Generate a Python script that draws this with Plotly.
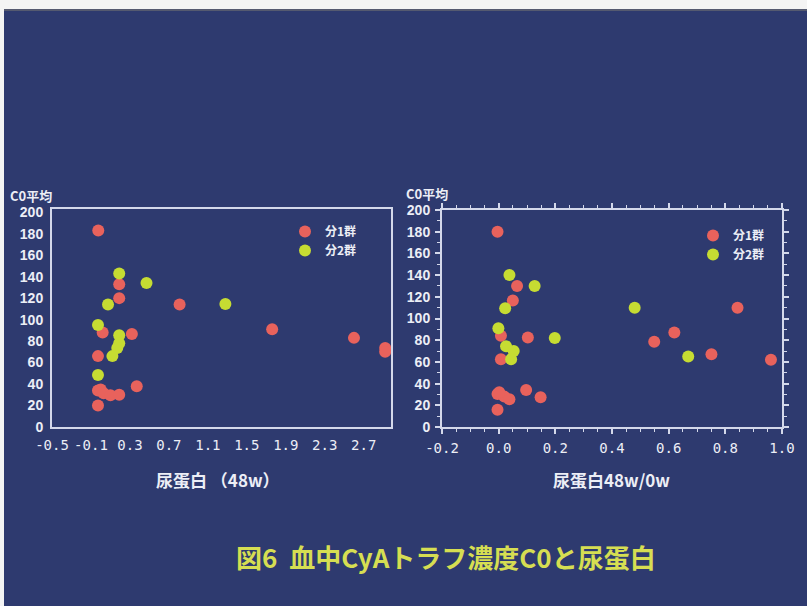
import plotly.graph_objects as go

# ---- data ----
left_g1_x = [-0.025, 0.19, 0.19, 0.81, 0.02, 0.32, 1.76, 2.60, 2.92, 2.92, -0.028, 0.37,
             -0.028, 0.0, 0.03, 0.10, 0.19, -0.028]
left_g1_y = [183, 133, 120, 114, 88, 86.5, 91, 83, 73.5, 70, 66, 38,
             34, 35, 31.5, 29.5, 30, 20]
left_g2_x = [0.19, 0.47, 0.075, 1.28, -0.028, 0.19, 0.19, 0.17, 0.12, -0.028]
left_g2_y = [143, 134, 114, 114.5, 95, 85.5, 78, 73.5, 66, 48.5]

right_g1_x = [-0.004, 0.065, 0.05, 0.843, 0.008, 0.103, 0.62, 0.549, 0.751, 0.961, 0.008,
              0.097, 0.148, -0.004, 0.02, 0.038, 0.002, -0.004]
right_g1_y = [180, 130, 116.5, 110, 84, 82.5, 87, 78.5, 67, 62, 62.5,
              34, 27.5, 30.5, 28, 25.5, 32, 16]
right_g2_x = [0.038, 0.127, 0.023, 0.48, -0.001, 0.198, 0.026, 0.053, 0.044, 0.669]
right_g2_y = [140, 130, 109.5, 110, 91, 82, 74.5, 70, 62.5, 65]

series_names = ["分1群", "分2群"]

left_xticks = [-0.5, -0.1, 0.3, 0.7, 1.1, 1.5, 1.9, 2.3, 2.7]
left_xtext = ["-0.5", "-0.1", "0.3", "0.7", "1.1", "1.5", "1.9", "2.3", "2.7"]
right_xticks = [-0.2, 0.0, 0.2, 0.4, 0.6, 0.8, 1.0]
right_xtext = ["-0.2", "0.0", "0.2", "0.4", "0.6", "0.8", "1.0"]
yticks = [0, 20, 40, 60, 80, 100, 120, 140, 160, 180, 200]

y_title = "C0平均"
left_xtitle = "尿蛋白 （48w）"
right_xtitle = "尿蛋白48w/0w"
main_title = "図6  血中CyAトラフ濃度C0と尿蛋白"

# ---- style ----
W, H = 807, 606
BG = "#2e3a6f"
RED = "#e8625c"
GREEN = "#c6dc32"
AXC = "#d4d8ea"
TXT = "#eceef6"
JP = "Noto Sans CJK JP"


def px(x):
    return x / W


def py(y):
    return 1 - y / H


fig = go.Figure()
mk = dict(size=12, line=dict(width=0))
fig.add_trace(go.Scatter(x=left_g1_x, y=left_g1_y, mode="markers", name=series_names[0],
                         marker=dict(color=RED, **mk), xaxis="x", yaxis="y", legend="legend"))
fig.add_trace(go.Scatter(x=left_g2_x, y=left_g2_y, mode="markers", name=series_names[1],
                         marker=dict(color=GREEN, **mk), xaxis="x", yaxis="y", legend="legend"))
fig.add_trace(go.Scatter(x=right_g1_x, y=right_g1_y, mode="markers", name=series_names[0],
                         marker=dict(color=RED, **mk), xaxis="x2", yaxis="y2", legend="legend2"))
fig.add_trace(go.Scatter(x=right_g2_x, y=right_g2_y, mode="markers", name=series_names[1],
                         marker=dict(color=GREEN, **mk), xaxis="x2", yaxis="y2", legend="legend2"))

xtick_font = dict(family="DejaVu Sans Mono", size=14, color=TXT)
ytick_font = dict(family="Liberation Sans", size=14, color=TXT, weight="bold")

fig.update_layout(
    width=W, height=H,
    margin=dict(l=0, r=0, t=0, b=0, pad=0, autoexpand=False),
    paper_bgcolor=BG, plot_bgcolor=BG,
    xaxis=dict(domain=[px(52), px(391)], range=[-0.5, 2.98], tickvals=left_xticks,
               ticktext=left_xtext, tickfont=xtick_font, showgrid=False, zeroline=False,
               showline=True, linecolor=AXC, linewidth=2, mirror=True, ticks="",
               anchor="y", ticklabelstandoff=4, automargin=False),
    yaxis=dict(domain=[py(427), py(209)], range=[0, 203], tickvals=yticks,
               tickfont=ytick_font, showgrid=False, zeroline=False, showline=True,
               linecolor=AXC, linewidth=2, mirror=True, ticks="", anchor="x",
               ticklabelstandoff=4, automargin=False),
    xaxis2=dict(domain=[px(442), px(782)], range=[-0.2, 1.0], tickvals=right_xticks,
                ticktext=right_xtext, tickfont=xtick_font, showgrid=False, zeroline=False,
                showline=True, linecolor=AXC, linewidth=2, mirror="allticks",
                ticks="outside", ticklen=5, tickwidth=1.5, tickcolor=AXC,
                minor=dict(dtick=0.05, ticks="outside", ticklen=3, tickcolor=AXC, tickwidth=1),
                anchor="y2", ticklabelstandoff=2, automargin=False),
    yaxis2=dict(domain=[py(427), py(210)], range=[0, 200], tickvals=yticks,
                tickfont=ytick_font, showgrid=False, zeroline=False, showline=True,
                linecolor=AXC, linewidth=2, mirror="allticks",
                ticks="outside", ticklen=5, tickwidth=1.5, tickcolor=AXC,
                minor=dict(dtick=10, ticks="outside", ticklen=3, tickcolor=AXC, tickwidth=1),
                anchor="x2", ticklabelstandoff=2, automargin=False),
    legend=dict(x=px(285), y=py(217), xanchor="left", yanchor="top",
                bgcolor="rgba(0,0,0,0)", font=dict(family=JP, size=12, color=TXT, weight="bold"),
                tracegroupgap=0, itemwidth=30),
    legend2=dict(x=px(693), y=py(221), xanchor="left", yanchor="top",
                 bgcolor="rgba(0,0,0,0)", font=dict(family=JP, size=12, color=TXT, weight="bold"),
                 tracegroupgap=0, itemwidth=30),
    showlegend=True,
)

ann_common = dict(xref="paper", yref="paper", showarrow=False)
fig.add_annotation(x=px(8), y=py(195), text=y_title, xanchor="left", yanchor="middle",
                   font=dict(family=JP, size=13, color=TXT, weight="bold"), **ann_common)
fig.add_annotation(x=px(404), y=py(193), text=y_title, xanchor="left", yanchor="middle",
                   font=dict(family=JP, size=13, color=TXT, weight="bold"), **ann_common)
fig.add_annotation(x=px(218), y=py(479), text=left_xtitle, xanchor="center", yanchor="middle",
                   font=dict(family=JP, size=17, color=TXT, weight="bold"), **ann_common)
fig.add_annotation(x=px(611), y=py(479), text=right_xtitle, xanchor="center", yanchor="middle",
                   font=dict(family=JP, size=17, color=TXT, weight="bold"), **ann_common)
fig.add_annotation(x=px(446), y=py(556), text=main_title, xanchor="center", yanchor="middle",
                   font=dict(family=JP, size=26, color="#d6de52", weight="bold"), **ann_common)

# photo border of the slide (white strips on top and left)
fig.add_shape(type="rect", xref="paper", yref="paper", x0=0, x1=1, y0=py(10), y1=1,
              fillcolor="#f4f4f4", line=dict(width=0))
fig.add_shape(type="rect", xref="paper", yref="paper", x0=0, x1=px(4), y0=0, y1=1,
              fillcolor="#f4f4f4", line=dict(width=0))
fig.add_shape(type="line", xref="paper", yref="paper", x0=px(4), x1=1, y0=py(10), y1=py(10),
              line=dict(color="#555a70", width=2))

fig.write_html("out.html", config={"displayModeBar": False},
               post_script="document.body.style.margin='0';document.body.style.padding='0';")
